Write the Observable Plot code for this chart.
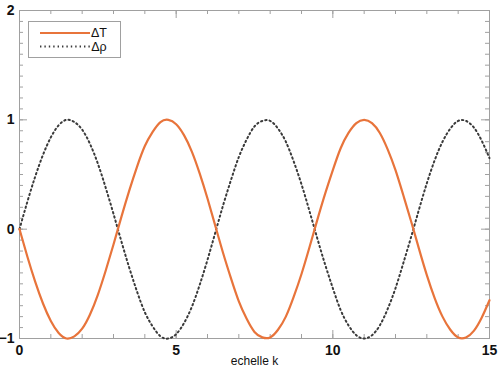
<!DOCTYPE html>
<html>
<head>
<meta charset="utf-8">
<script src="https://cdn.jsdelivr.net/npm/d3@7"></script>
<script src="https://cdn.jsdelivr.net/npm/@observablehq/plot@0.6"></script>
<style>
  html, body { margin: 0; padding: 0; background: #fff; }
  #chart { width: 499px; height: 368px; overflow: hidden; }
</style>
</head>
<body>
<div id="chart"></div>
<script>
// echelle k
const k = [0,0.25,0.5,0.75,1,1.25,1.5,1.75,2,2.25,2.5,2.75,3,3.25,3.5,3.75,4,4.25,4.5,4.75,5,5.25,5.5,5.75,6,6.25,6.5,6.75,7,7.25,7.5,7.75,8,8.25,8.5,8.75,9,9.25,9.5,9.75,10,10.25,10.5,10.75,11,11.25,11.5,11.75,12,12.25,12.5,12.75,13,13.25,13.5,13.75,14,14.25,14.5,14.75,15];
// ΔT (orange, solid)
const deltaT = [0,-0.25,-0.48,-0.68,-0.84,-0.95,-1.00,-0.98,-0.91,-0.78,-0.60,-0.38,-0.14,0.11,0.35,0.57,0.76,0.89,0.98,1.00,0.96,0.86,0.71,0.51,0.28,0.03,-0.22,-0.45,-0.66,-0.82,-0.94,-0.99,-0.99,-0.92,-0.80,-0.62,-0.41,-0.17,0.08,0.32,0.54,0.74,0.88,0.97,1.00,0.97,0.88,0.73,0.54,0.31,0.07,-0.18,-0.42,-0.63,-0.80,-0.92,-0.99,-0.99,-0.93,-0.81,-0.65];
// Δρ (dark, dotted)
const deltaRho = [0,0.25,0.48,0.68,0.84,0.95,1.00,0.98,0.91,0.78,0.60,0.38,0.14,-0.11,-0.35,-0.57,-0.76,-0.89,-0.98,-1.00,-0.96,-0.86,-0.71,-0.51,-0.28,-0.03,0.22,0.45,0.66,0.82,0.94,0.99,0.99,0.92,0.80,0.62,0.41,0.17,-0.08,-0.32,-0.54,-0.74,-0.88,-0.97,-1.00,-0.97,-0.88,-0.73,-0.54,-0.31,-0.07,0.18,0.42,0.63,0.80,0.92,0.99,0.99,0.93,0.81,0.65];

const xTickLabels = [0, 5, 10, 15];
const yTickLabels = [-1, 0, 1, 2];
const xMinorTicks = d3.range(0, 16, 1);
const yMinorTicks = d3.range(-10, 21, 1).map(v => v / 10);
const seriesNames = ["ΔT", "Δρ"];
const seriesColors = ["#e8743b", "#3a3a3a"];
const xLabel = "echelle k";

const rowsT = k.map((x, i) => ({k: x, v: deltaT[i]}));
const rowsR = k.map((x, i) => ({k: x, v: deltaRho[i]}));

const W = 499, H = 368, mL = 19, mR = 10, mT = 10, mB = 30;
const innerW = W - mL - mR, innerH = H - mT - mB;
const font = "'Liberation Sans', Arial, Helvetica, sans-serif";
const frameColor = "#a0a0a0";
const dots = "1.4,3";

const chart = Plot.plot({
  width: W,
  height: H,
  marginLeft: mL,
  marginRight: mR,
  marginTop: mT,
  marginBottom: mB,
  style: {fontFamily: font, background: "#fff", overflow: "visible"},
  x: {domain: [0, 15]},
  y: {domain: [-1, 2]},
  marks: [
    // inward ticks on all four sides
    Plot.tickY(yMinorTicks, {y: d => d, stroke: frameColor, insetRight: innerW - 4}),
    Plot.tickY(yMinorTicks, {y: d => d, stroke: frameColor, insetLeft: innerW - 4}),
    Plot.tickY(yTickLabels, {y: d => d, stroke: frameColor, insetRight: innerW - 8}),
    Plot.tickY(yTickLabels, {y: d => d, stroke: frameColor, insetLeft: innerW - 8}),
    Plot.tickX(xMinorTicks, {x: d => d, stroke: frameColor, insetTop: innerH - 4}),
    Plot.tickX(xMinorTicks, {x: d => d, stroke: frameColor, insetBottom: innerH - 4}),
    Plot.tickX(xTickLabels, {x: d => d, stroke: frameColor, insetTop: innerH - 8}),
    Plot.tickX(xTickLabels, {x: d => d, stroke: frameColor, insetBottom: innerH - 8}),
    Plot.frame({stroke: frameColor}),
    Plot.axisY({ticks: yTickLabels, tickFormat: d3.format("d"), tickSize: 0, tickPadding: 5, label: null,
      fontSize: 14, fontWeight: "bold", fill: "#111"}),
    Plot.axisX({ticks: xTickLabels, tickFormat: d3.format("d"), tickSize: 0, tickPadding: 7, fontSize: 14, fontWeight: "bold",
      fill: "#111", label: null}),
    Plot.text([xLabel], {frameAnchor: "bottom", dy: 23, text: d => d, fontSize: 12, fill: "#111", lineAnchor: "middle"}),
    Plot.line(rowsR, {x: "k", y: "v", stroke: seriesColors[1], strokeWidth: 2,
      strokeDasharray: dots, curve: "natural"}),
    Plot.line(rowsT, {x: "k", y: "v", stroke: seriesColors[0], strokeWidth: 2.2, curve: "natural"})
  ]
});

document.getElementById("chart").appendChild(chart);

// legend inside the frame (top-left)
const svg = d3.select(chart);
const lg = svg.append("g").attr("font-family", font);
lg.append("rect").attr("x", 28.5).attr("y", 21.5).attr("width", 92).attr("height", 36)
  .attr("fill", "#fff").attr("stroke", frameColor);
seriesNames.forEach((name, i) => {
  const yy = 33 + i * 13.5;
  lg.append("line").attr("x1", 40).attr("x2", 90).attr("y1", yy).attr("y2", yy)
    .attr("stroke", seriesColors[i]).attr("stroke-width", i === 1 ? 2 : 2.2)
    .attr("stroke-dasharray", i === 1 ? dots : null);
  lg.append("text").attr("x", 99).attr("y", yy).attr("dy", "0.35em")
    .attr("font-size", 12.5).attr("fill", "#111").text(name);
});
</script>
</body>
</html>
